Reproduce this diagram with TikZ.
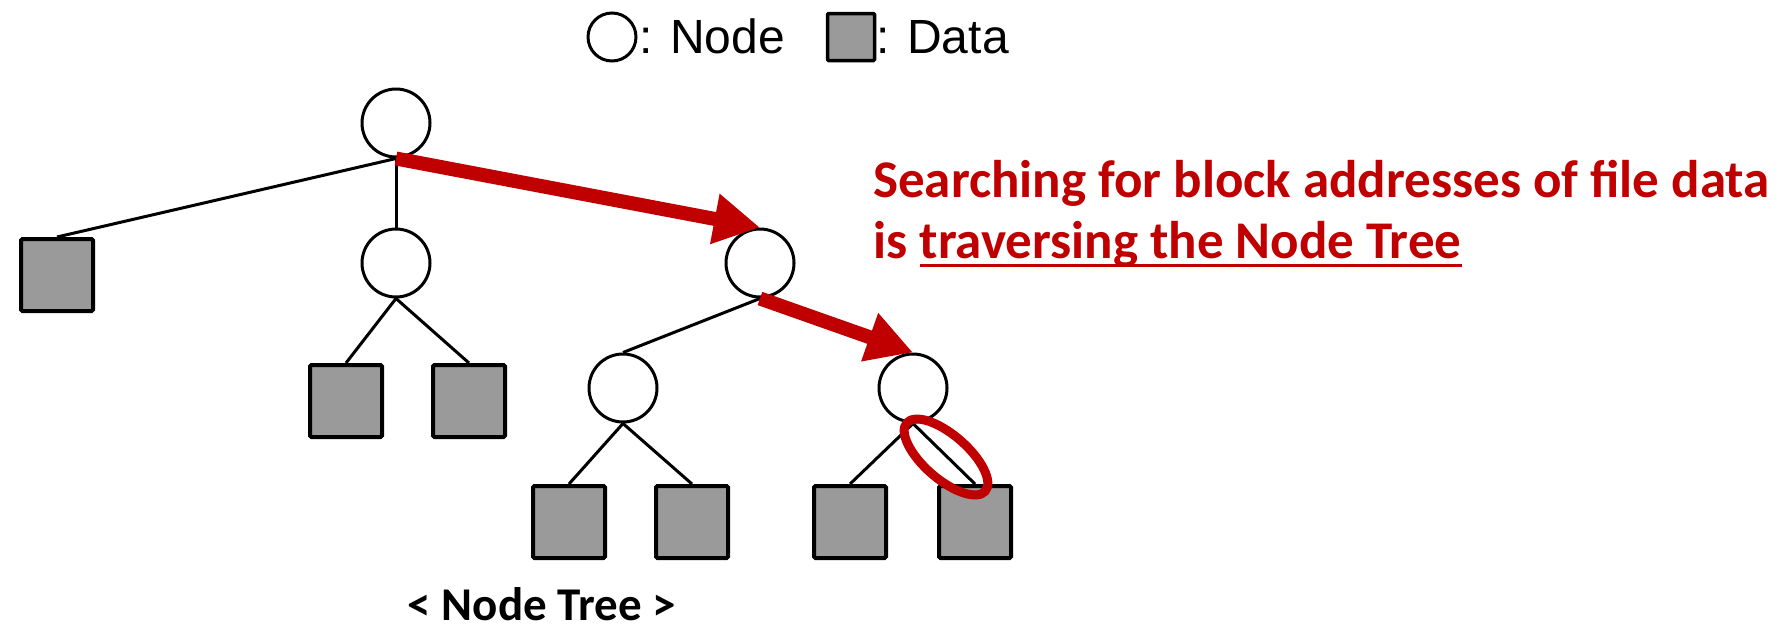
\documentclass[tikz,border=0pt]{standalone}
\usepackage{fontspec}
\setmainfont{Liberation Sans}
\newfontfamily\calib{Carlito}
\usetikzlibrary{arrows.meta,calc}
\definecolor{darkred}{HTML}{C00000}
\definecolor{datagray}{HTML}{9A9A9A}
\begin{document}
\begin{tikzpicture}[x=1pt,y=-1pt,
  tnode/.style={circle,draw=black,line width=3pt,minimum size=68pt,inner sep=0pt},
  dnode/.style={rectangle,draw=black,fill=datagray,line width=4pt,minimum size=72pt,inner sep=0pt,rounded corners=1.5pt},
  treeline/.style={line width=3pt,black},
  redarrow/.style={line width=14pt,darkred,-{Triangle[length=46pt,width=48pt]}},
  redtext/.style={text=darkred,font=\calib\bfseries\fontsize{53}{60}\selectfont,inner sep=0pt,anchor=base west},
  legtext/.style={font=\fontsize{48}{54}\selectfont,inner sep=0pt,anchor=base west}]
\useasboundingbox (0,0) rectangle (1790,630);
% legend
\node[circle,draw=black,line width=3pt,minimum size=48pt,inner sep=0pt] (lc) at (612,37) {};
\node[legtext] (lct) at (639,53) {: Node};
\node[rectangle,draw=black,fill=datagray,line width=3.5pt,minimum size=47pt,inner sep=0pt,rounded corners=1pt] (ld) at (851,37) {};
\node[legtext] (ldt) at (876,53) {: Data};
% tree nodes
\node[tnode] (root) at (396,123) {};
\node[tnode] (m1) at (396,263) {};
\node[tnode] (r1) at (760,263) {};
\node[tnode] (l2a) at (623,388) {};
\node[tnode] (l2b) at (913,388) {};
\node[dnode] (d0) at (57,275) {};
\node[dnode] (d1) at (346,401) {};
\node[dnode] (d2) at (469,401) {};
\node[dnode] (d3) at (569,522) {};
\node[dnode] (d4) at (692,522) {};
\node[dnode] (d5) at (850,522) {};
\node[dnode] (d6) at (975,522) {};
% tree lines
\draw[treeline] (root.south) -- (d0.north);
\draw[treeline] (root.south) -- (m1.north);
\draw[treeline] (m1.south) -- (d1.north);
\draw[treeline] (m1.south) -- (d2.north);
\draw[treeline] (r1.south) -- (l2a.north);
\draw[treeline] (l2a.south) -- (d3.north);
\draw[treeline] (l2a.south) -- (d4.north);
\draw[treeline] (l2b.south) -- (d5.north);
\draw[treeline] (l2b.south) -- (d6.north);
% red arrows
\draw[redarrow] (root.south) -- (r1.north);
\draw[redarrow] (r1.south) -- (l2b.north);
% red ellipse
\draw[darkred,line width=9pt] (946,457) ellipse [x radius=52pt,y radius=22pt,rotate=-41];
% captions
\node[redtext] (t1) at (873,197) {Searching for block addresses of file data};
\node[redtext] (t2a) at (873,258) {is};
\node[redtext] (t2b) at ([xshift=12pt]t2a.base east) {traversing the Node Tree};
\draw[darkred,line width=3pt] ([yshift=-7pt]t2b.base west) -- ([yshift=-7pt]t2b.base east);
\node[font=\calib\bfseries\fontsize{47}{52}\selectfont,inner sep=0pt,anchor=base] (cap) at (542,620) {< Node Tree >};
\end{tikzpicture}
\end{document}
